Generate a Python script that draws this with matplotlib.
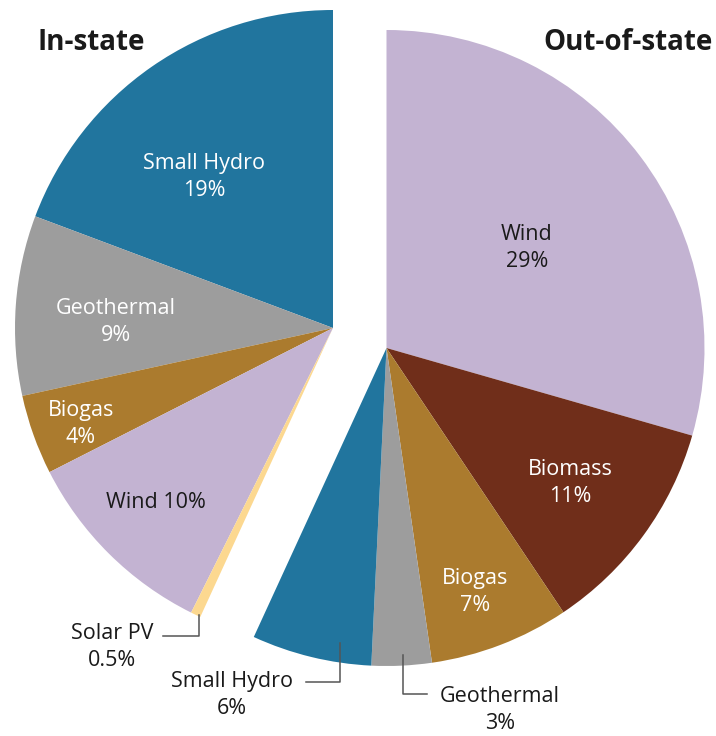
import matplotlib
matplotlib.use("Agg")
import matplotlib.pyplot as plt
import numpy as np

# shares in percent (rounded as printed)
in_labels = ["Small Hydro", "Geothermal", "Biogas", "Wind", "Solar PV"]
in_values = [19, 9, 4, 10, 0.5]
out_labels = ["Wind", "Biomass", "Biogas", "Geothermal", "Small Hydro"]
out_values = [29, 11, 7, 3, 6]

COLORS = {
    "Small Hydro": "#21759e",
    "Geothermal": "#9d9d9d",
    "Biogas": "#ab7b2e",
    "Wind": "#c3b3d2",
    "Solar PV": "#fcd890",
    "Biomass": "#702e1a",
}

W, H = 716, 736
R = 318
IN_CENTER = (333, H - 328)
OUT_CENTER = (386.5, H - 348)

plt.rcParams["font.family"] = ["Open Sans", "DejaVu Sans"]

fig = plt.figure(figsize=(W / 100, H / 100), dpi=100)
ax = fig.add_axes([0, 0, 1, 1])

total = float(sum(in_values) + sum(out_values))
in_frac = np.array(in_values) / total
out_frac = np.array(out_values) / total

ax.pie(in_frac, colors=[COLORS[k] for k in in_labels], startangle=90,
       counterclock=True, radius=R, center=IN_CENTER, normalize=False,
       wedgeprops=dict(linewidth=0))
ax.pie(out_frac, colors=[COLORS[k] for k in out_labels], startangle=90,
       counterclock=False, radius=R, center=OUT_CENTER, normalize=False,
       wedgeprops=dict(linewidth=0))

ax.set_xlim(0, W)
ax.set_ylim(0, H)
ax.set_aspect("equal")
ax.axis("off")


def y(p):
    return H - p


fs = 15.5
ls = 1.4
ax.text(37, y(42), "In-state", fontsize=20, fontweight="bold", ha="left", va="center", color="#1a1a1a")
ax.text(713, y(42), "Out-of-state", fontsize=20, fontweight="bold", ha="right", va="center", color="#1a1a1a")

# labels inside wedges
inside = [
    (204, 177, "Small Hydro\n19%", "white"),
    (116, 322, "Geothermal\n9%", "white"),
    (81, 424, "Biogas\n4%", "white"),
    (156, 503, "Wind 10%", "#1a1a1a"),
    (527, 248, "Wind\n29%", "#1a1a1a"),
    (570, 483, "Biomass\n11%", "white"),
    (475, 592, "Biogas\n7%", "white"),
]
for px, py, txt, col in inside:
    ax.text(px, y(py), txt, fontsize=fs, ha="center", va="center", color=col, linespacing=ls)

# labels outside with leader lines
outside = [
    (112, 647, "Solar PV\n0.5%"),
    (232, 695, "Small Hydro\n6%"),
    (500, 710, "Geothermal\n3%"),
]
for px, py, txt in outside:
    ax.text(px, y(py), txt, fontsize=fs, ha="center", va="center", color="#1a1a1a", linespacing=ls)

lc = "#555555"
ax.plot([163, 199, 199], [y(636), y(636), y(615)], color=lc, lw=1.1)
ax.plot([306, 340, 340], [y(682), y(682), y(643)], color=lc, lw=1.1)
ax.plot([403, 403, 427], [y(655), y(694), y(694)], color=lc, lw=1.1)

fig.savefig("out.png", dpi=100)
